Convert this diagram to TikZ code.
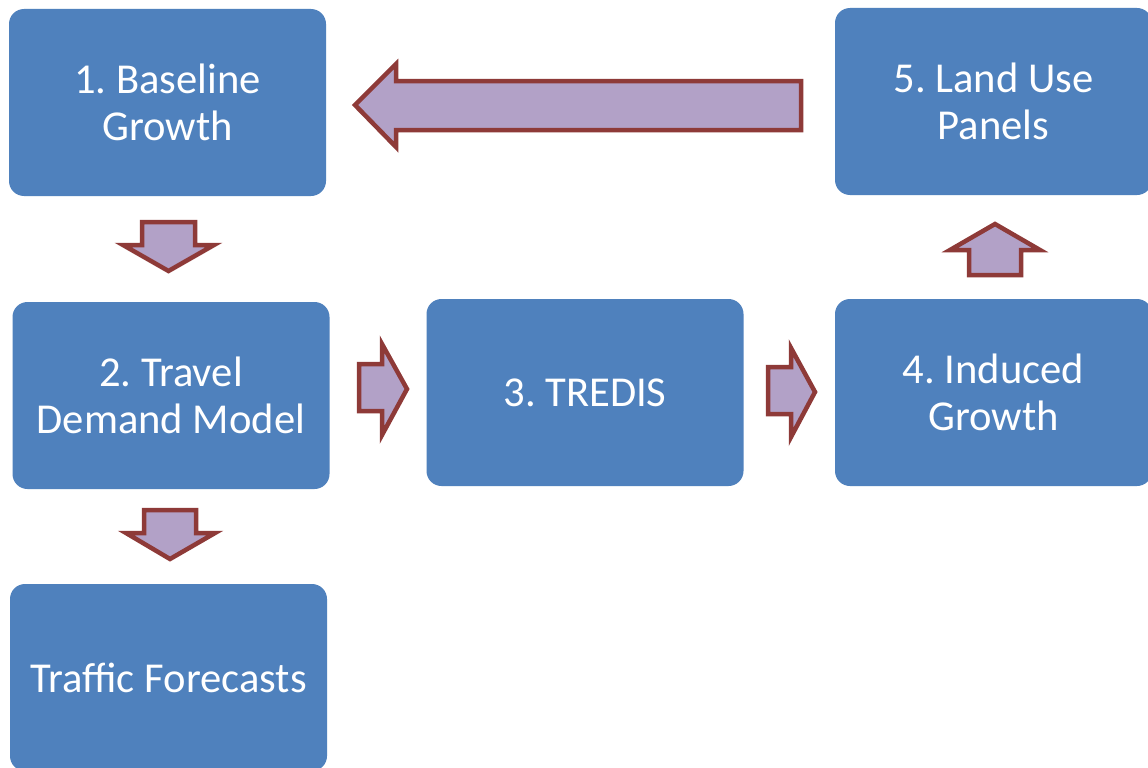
\documentclass[tikz,border=0pt]{standalone}
\usepackage{fontspec}
\setmainfont{Carlito}
\frenchspacing
\definecolor{boxblue}{HTML}{4F81BD}
\definecolor{arrfill}{HTML}{B2A1C7}
\definecolor{arrline}{HTML}{8E3A38}
\tikzset{
  stagebox/.style={rectangle, rounded corners=15pt, fill=boxblue, draw=none,
    text=white, align=center, inner sep=0pt,
    minimum width=317pt, minimum height=187pt,
    font=\fontsize{42.6}{47}\selectfont},
  blockarrow/.style={fill=arrfill, draw=arrline, line width=4.5pt, line join=miter, miter limit=10}
}
\begin{document}
\begin{tikzpicture}[x=1pt,y=-1pt]
\useasboundingbox (0,0) rectangle (1148,768);
\fill[white] (0,0) rectangle (1148,768);
\node[stagebox] (b1) at (167.5,102.5) {1. Baseline\\Growth};
\node[stagebox] (b5) at (993.5,101.5) {5. Land Use\\Panels};
\node[stagebox] (b2) at (171,395.5) {2. Travel\\Demand Model};
\node[stagebox] (b3) at (585,392.5) {3. TREDIS};
\node[stagebox] (b4) at (993.5,392.5) {4. Induced\\Growth};
\node[stagebox] (b6) at (168.5,677.5) {Traffic Forecasts};
% big left arrow (5 -> 1)
\draw[blockarrow] (801,81) -- (396,81) -- (396,64) -- (355,105) -- (396,147) -- (396,130) -- (801,130) -- cycle;
% down arrow (1 -> 2)
\draw[blockarrow] (142,222) -- (195,222) -- (195,245) -- (214,245) -- (168.5,271) -- (123,245) -- (142,245) -- cycle;
% down arrow (2 -> traffic)
\draw[blockarrow] (144,510) -- (196,510) -- (196,533) -- (215,533) -- (170,559) -- (126,533) -- (144,533) -- cycle;
% right arrow (2 -> 3)
\draw[blockarrow] (359,364) -- (382,364) -- (382,344) -- (407,389) -- (382,435) -- (382,411) -- (359,411) -- cycle;
% right arrow (3 -> 4)
\draw[blockarrow] (768,367) -- (791,367) -- (791,348) -- (815,392) -- (791,437) -- (791,414) -- (768,414) -- cycle;
% up arrow (4 -> 5)
\draw[blockarrow] (969,275) -- (969,250) -- (950,250) -- (995,224) -- (1040,250) -- (1021,250) -- (1021,275) -- cycle;
\end{tikzpicture}
\end{document}
